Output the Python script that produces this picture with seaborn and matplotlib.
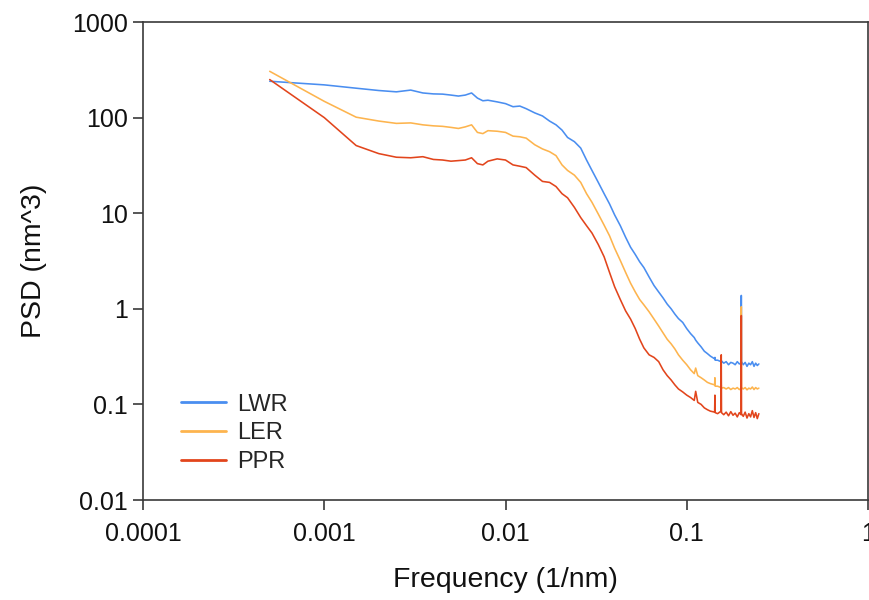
import matplotlib
matplotlib.use("Agg")
import matplotlib.pyplot as plt
import matplotlib.ticker as mticker
import numpy as np
import pandas as pd
import seaborn as sns

# ---------------- data ----------------
freq = [0.0005, 0.001, 0.0015, 0.002, 0.0025, 0.003, 0.0035, 0.004, 0.0045, 0.005,
        0.0055, 0.006, 0.0065, 0.007, 0.0075, 0.008, 0.009, 0.01, 0.011, 0.012,
        0.013, 0.0145, 0.016, 0.0175, 0.019, 0.0205, 0.022, 0.024, 0.026, 0.028,
        0.030, 0.0325, 0.035, 0.0375, 0.040, 0.043, 0.046, 0.049, 0.052, 0.055,
        0.058, 0.062, 0.066, 0.070, 0.074, 0.078, 0.082, 0.086, 0.090, 0.095,
        0.100, 0.105, 0.110, 0.112, 0.115, 0.120, 0.125, 0.130, 0.135, 0.1425,
        0.143, 0.1435, 0.148, 0.1545, 0.155, 0.1555, 0.160, 0.165, 0.170, 0.175,
        0.180, 0.185, 0.190, 0.195, 0.1995, 0.200, 0.2005, 0.205, 0.210, 0.215,
        0.220, 0.225, 0.230, 0.235, 0.240, 0.245, 0.250]

lwr = [240, 220, 203, 192, 186, 194, 181, 177, 176, 172,
       168, 172, 181, 160, 150, 152, 146, 140, 130, 132,
       124, 112, 104, 92, 84, 74, 62, 56, 48, 36,
       28, 21, 16, 12.5, 9.6, 7.4, 5.6, 4.4, 3.7, 3.1,
       2.7, 2.15, 1.75, 1.5, 1.3, 1.12, 1.0, 0.88, 0.79, 0.72,
       0.62, 0.55, 0.50, 0.47, 0.44, 0.40, 0.36, 0.34, 0.32, 0.30,
       0.31, 0.29, 0.29, 0.28, 0.27, 0.285, 0.27, 0.28, 0.26, 0.275,
       0.27, 0.26, 0.28, 0.265, 0.27, 1.38, 0.28, 0.26, 0.275, 0.25,
       0.27, 0.26, 0.28, 0.25, 0.27, 0.255, 0.265]

ler = [305, 148, 101, 92, 87, 88, 84, 82, 81, 79,
       77, 80, 84, 70, 68, 73, 72, 70, 64, 63,
       61, 52, 47, 44, 40, 32, 28, 25, 21, 16,
       13, 9.8, 7.5, 5.8, 4.3, 3.2, 2.4, 1.85, 1.5, 1.25,
       1.1, 0.93, 0.78, 0.66, 0.56, 0.48, 0.43, 0.38, 0.33, 0.29,
       0.26, 0.23, 0.21, 0.24, 0.20, 0.19, 0.18, 0.17, 0.165, 0.16,
       0.19, 0.155, 0.155, 0.15, 0.16, 0.148, 0.15, 0.145, 0.15, 0.143,
       0.148, 0.145, 0.15, 0.143, 0.147, 1.05, 0.15, 0.145, 0.15, 0.142,
       0.148, 0.145, 0.152, 0.143, 0.15, 0.145, 0.148]

ppr = [250, 100, 51, 42, 38.5, 38, 39, 36.5, 36, 35,
       35.5, 36, 38, 33, 32, 35, 37, 36, 32, 31,
       30, 25, 21.5, 21, 19, 16, 14.5, 11.5, 9, 7.4,
       6.2, 4.7, 3.5, 2.4, 1.7, 1.25, 0.95, 0.78, 0.62, 0.48,
       0.39, 0.33, 0.31, 0.28, 0.23, 0.20, 0.18, 0.16, 0.145, 0.135,
       0.125, 0.118, 0.11, 0.137, 0.105, 0.10, 0.092, 0.088, 0.085, 0.083,
       0.125, 0.082, 0.08, 0.085, 0.33, 0.082, 0.078, 0.083, 0.076, 0.084,
       0.077, 0.081, 0.074, 0.082, 0.078, 0.85, 0.08, 0.075, 0.083, 0.072,
       0.08, 0.074, 0.086, 0.073, 0.082, 0.071, 0.08]

series_names = ["LWR", "LER", "PPR"]
series_colors = ["#4a8ef0", "#fdb44e", "#e2451c"]

x_ticks = [0.0001, 0.001, 0.01, 0.1, 1]
x_ticklabels = ["0.0001", "0.001", "0.01", "0.1", "1"]
y_ticks = [0.01, 0.1, 1, 10, 100, 1000]
y_ticklabels = ["0.01", "0.1", "1", "10", "100", "1000"]

# ---------------- build long-form table ----------------
df = pd.concat([
    pd.DataFrame({"freq": freq, "psd": vals, "series": name})
    for name, vals in zip(series_names, [lwr, ler, ppr])
], ignore_index=True)

# ---------------- styling ----------------
sns.set_style("white")
plt.rcParams["font.family"] = ["Liberation Sans", "DejaVu Sans"]

fig = plt.figure(figsize=(8.69, 6.0), dpi=100)
ax = fig.add_axes([143 / 869, 1 - 500 / 600, 725 / 869, 478 / 600])

sns.lineplot(data=df, x="freq", y="psd", hue="series",
             hue_order=series_names,
             palette=dict(zip(series_names, series_colors)),
             estimator=None, sort=False, linewidth=1.15, ax=ax, legend=False)

ax.set_xscale("log")
ax.set_yscale("log")
ax.set_xlim(0.0001, 1)
ax.set_ylim(0.01, 1000)

ax.xaxis.set_major_locator(mticker.FixedLocator(x_ticks))
ax.xaxis.set_major_formatter(mticker.FixedFormatter(x_ticklabels))
ax.yaxis.set_major_locator(mticker.FixedLocator(y_ticks))
ax.yaxis.set_major_formatter(mticker.FixedFormatter(y_ticklabels))
ax.xaxis.set_minor_locator(mticker.NullLocator())
ax.yaxis.set_minor_locator(mticker.NullLocator())

for sp in ax.spines.values():
    sp.set_color("#3a3a3a")
    sp.set_linewidth(1.2)
    sp.set_visible(True)

ax.tick_params(axis="both", which="major", direction="out", length=7,
               width=1.2, color="#3a3a3a", labelsize=18, labelcolor="#111111",
               bottom=True, left=True, top=False, right=False)
ax.tick_params(axis="x", pad=9)
ax.tick_params(axis="y", pad=4)

ax.set_xlabel("Frequency (1/nm)", fontsize=20.5, color="#111111", labelpad=15)
ax.set_ylabel("PSD (nm^3)", fontsize=20.5, color="#111111", labelpad=18)

handles = ax.get_lines()[:3]
leg = ax.legend(handles, series_names, loc="upper left",
                bbox_to_anchor=(0.052, 0.2225), frameon=False,
                fontsize=17, handlelength=1.9, handletextpad=0.5,
                labelspacing=0.29, borderpad=0.0, borderaxespad=0.0)
for line in leg.get_lines():
    line.set_linewidth(2.0)

fig.savefig("out.png", dpi=100)
